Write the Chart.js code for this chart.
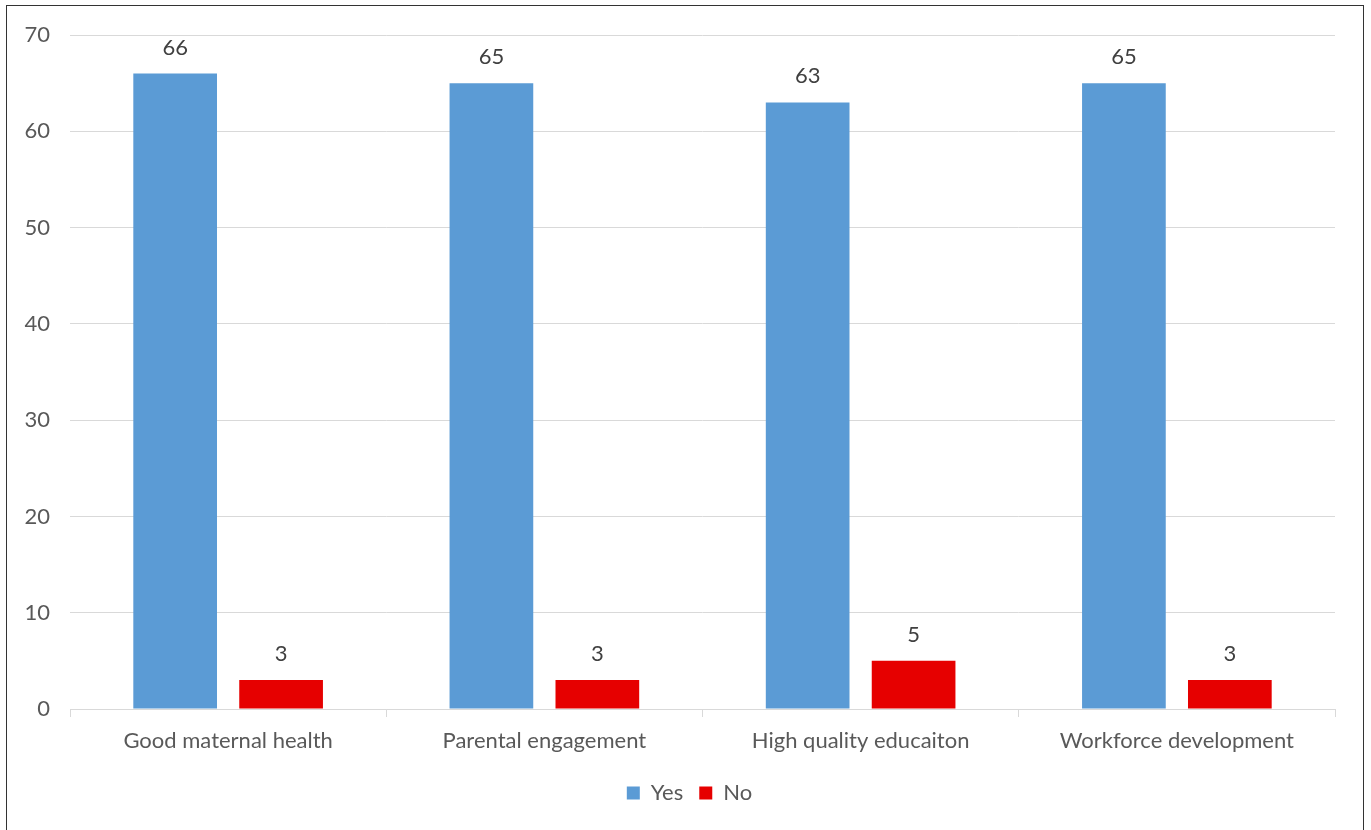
<!DOCTYPE html>
<html>
<head>
<meta charset="utf-8">
<script src="https://cdn.jsdelivr.net/npm/chart.js@4.4.1/dist/chart.umd.min.js"></script>
<style>
  html, body { margin: 0; padding: 0; background: #fff; }
  #wrap { position: relative; width: 1371px; height: 830px; }
  #frame { position: absolute; left: 6px; top: 5px; width: 1358px; height: 830px;
           border: 1px solid #333; box-sizing: border-box; pointer-events: none; }
</style>
</head>
<body>
<div id="wrap">
  <canvas id="chart" width="1371" height="830"></canvas>
  <div id="frame"></div>
</div>
<script>
const categories = ['Good maternal health', 'Parental engagement', 'High quality educaiton', 'Workforce development'];
const yesValues = [66, 65, 63, 65];
const noValues = [3, 3, 5, 3];
const yTicks = [0, 10, 20, 30, 40, 50, 60, 70];

const FONT = 'Lato, "Open Sans", sans-serif';
const SIZE = 22;
const TEXT = '#595959';
const GRID = '#d9d9d9';

// Value labels above each bar
const barLabels = {
  id: 'barLabels',
  afterDatasetsDraw(chart) {
    const ctx = chart.ctx;
    ctx.save();
    ctx.font = SIZE + 'px ' + FONT;
    ctx.fillStyle = '#404040';
    ctx.textAlign = 'center';
    ctx.textBaseline = 'middle';
    chart.data.datasets.forEach((ds, i) => {
      chart.getDatasetMeta(i).data.forEach((bar, j) => {
        ctx.fillText(String(ds.data[j]), bar.x, bar.y - 26);
      });
    });
    ctx.restore();
  }
};

// Centre the legend under the plot area rather than the full canvas
const legendShift = {
  id: 'legendShift',
  afterLayout(chart) {
    if (chart.legend) chart.legend.left += chart.chartArea.left - 26;
  }
};

new Chart(document.getElementById('chart'), {
  type: 'bar',
  data: {
    labels: categories,
    datasets: [
      { label: 'Yes', data: yesValues, backgroundColor: '#5B9BD5',
        categoryPercentage: 0.67, barPercentage: 0.79 },
      { label: 'No', data: noValues, backgroundColor: '#E60000',
        categoryPercentage: 0.67, barPercentage: 0.79 }
    ]
  },
  options: {
    responsive: false,
    animation: false,
    layout: { padding: { left: 0, right: 36, top: 35, bottom: 16 } },
    plugins: {
      tooltip: { enabled: false },
      legend: {
        position: 'bottom',
        labels: {
          font: { family: FONT, size: SIZE },
          color: TEXT,
          boxWidth: 13, boxHeight: 13,
          padding: 16
        }
      }
    },
    scales: {
      x: {
        offset: true,
        grid: { display: true, drawOnChartArea: false, drawTicks: true, tickLength: 8,
                offset: true, color: GRID },
        border: { display: true, color: GRID },
        ticks: { font: { family: FONT, size: SIZE }, color: TEXT, padding: 11, maxRotation: 0 },
        afterFit(s) { s.height = 57; }
      },
      y: {
        min: 0, max: 70,
        afterBuildTicks(s) { s.ticks = yTicks.map(v => ({ value: v })); },
        grid: { color: GRID, drawTicks: false },
        border: { display: false },
        ticks: { font: { family: FONT, size: SIZE }, color: TEXT, padding: 20 },
        afterFit(s) { s.width = 70; }
      }
    }
  },
  plugins: [barLabels, legendShift]
});
</script>
</body>
</html>
